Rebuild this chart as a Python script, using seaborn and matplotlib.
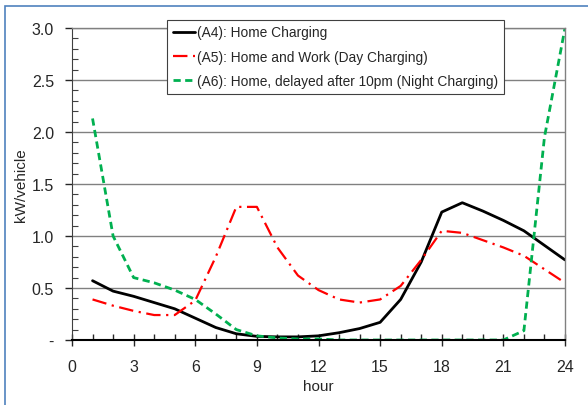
import numpy as np
import pandas as pd
import seaborn as sns
import matplotlib.pyplot as plt
from matplotlib.ticker import MultipleLocator, FuncFormatter
from matplotlib.patches import Rectangle

# hourly load per vehicle
hours = list(range(1, 25))
a4_home = [0.57, 0.47, 0.42, 0.36, 0.30, 0.21, 0.12, 0.06, 0.035, 0.03, 0.03, 0.04,
           0.07, 0.11, 0.17, 0.39, 0.75, 1.23, 1.32, 1.24, 1.15, 1.05, 0.91, 0.77]
a5_day = [0.39, 0.33, 0.28, 0.24, 0.24, 0.38, 0.80, 1.28, 1.28, 0.89, 0.62, 0.48,
          0.39, 0.36, 0.39, 0.52, 0.77, 1.05, 1.03, 0.96, 0.89, 0.81, 0.68, 0.55]
a6_night = [2.13, 1.00, 0.60, 0.55, 0.48, 0.39, 0.25, 0.10, 0.04, 0.02, 0.01, 0.01,
            0.0, 0.0, 0.0, 0.0, 0.0, 0.0, 0.0, 0.0, 0.0, 0.09, 1.95, 3.0]
labels = ["(A4): Home Charging",
          "(A5): Home and Work (Day Charging)",
          "(A6): Home, delayed after 10pm (Night Charging)"]

sns.set_style("white")
plt.rcParams["font.family"] = ["Liberation Sans", "DejaVu Sans"]

fig = plt.figure(figsize=(5.88, 4.06), dpi=100)
ax = fig.add_axes([72 / 588, 1 - 341 / 406, (565 - 72) / 588, (341 - 29) / 406])

# chart-area border
fig.patches.append(Rectangle((5 / 588, -0.1), 1.2, 1 - 7 / 406 + 0.1, transform=fig.transFigure,
                             fill=False, edgecolor="#4f81bd", lw=1.2))

ax.yaxis.set_major_locator(MultipleLocator(0.5))
ax.yaxis.set_minor_locator(MultipleLocator(0.1))
ax.xaxis.set_major_locator(MultipleLocator(3))
ax.xaxis.set_minor_locator(MultipleLocator(1))
ax.grid(axis="y", which="major", color="#808080", lw=1)
ax.set_axisbelow(True)

sns.lineplot(x=hours, y=a4_home, ax=ax, color="black", lw=2, label=labels[0])
sns.lineplot(x=hours, y=a5_day, ax=ax, color="#ff0000", lw=1.6,
             linestyle=(0, (6.5, 2.5, 1, 2.5)), label=labels[1])
sns.lineplot(x=hours, y=a6_night, ax=ax, color="#00b050", lw=2,
             linestyle=(0, (2.6, 1.6)), label=labels[2])

ax.set_xlim(0, 24)
ax.set_ylim(0, 3.0)
ax.yaxis.set_major_formatter(FuncFormatter(lambda v, p: "-" if abs(v) < 1e-9 else f"{v:.1f}"))

for s in ["top", "right"]:
    ax.spines[s].set_color("#808080")
    ax.spines[s].set_linewidth(1)
ax.spines["left"].set_color("#404040")
ax.spines["bottom"].set_color("black")
ax.spines["bottom"].set_linewidth(1.5)

ax.tick_params(axis="x", which="major", direction="inout", length=8, width=1, labelsize=11.5, pad=10)
ax.tick_params(axis="x", which="minor", direction="in", length=4, width=1)
ax.tick_params(axis="y", which="major", direction="out", length=5, width=1, labelsize=11.5, pad=8)
ax.tick_params(axis="y", which="minor", direction="in", length=4, width=0.8, color="#404040")
ax.tick_params(left=True, bottom=True, which="both")

ax.set_xlabel("hour", fontsize=11, labelpad=3)
ax.set_ylabel("kW/vehicle", fontsize=11, labelpad=3)

leg = ax.legend(loc="upper left", bbox_to_anchor=(167 / 588, 1 - 21 / 406), bbox_transform=fig.transFigure,
                fontsize=9.9, frameon=True, fancybox=False, framealpha=1, edgecolor="#404040",
                handlelength=1.65, handletextpad=0.15, borderpad=0.4, labelspacing=0.75, borderaxespad=0)
leg.get_frame().set_linewidth(0.8)

fig.savefig("out.png", dpi=100)
